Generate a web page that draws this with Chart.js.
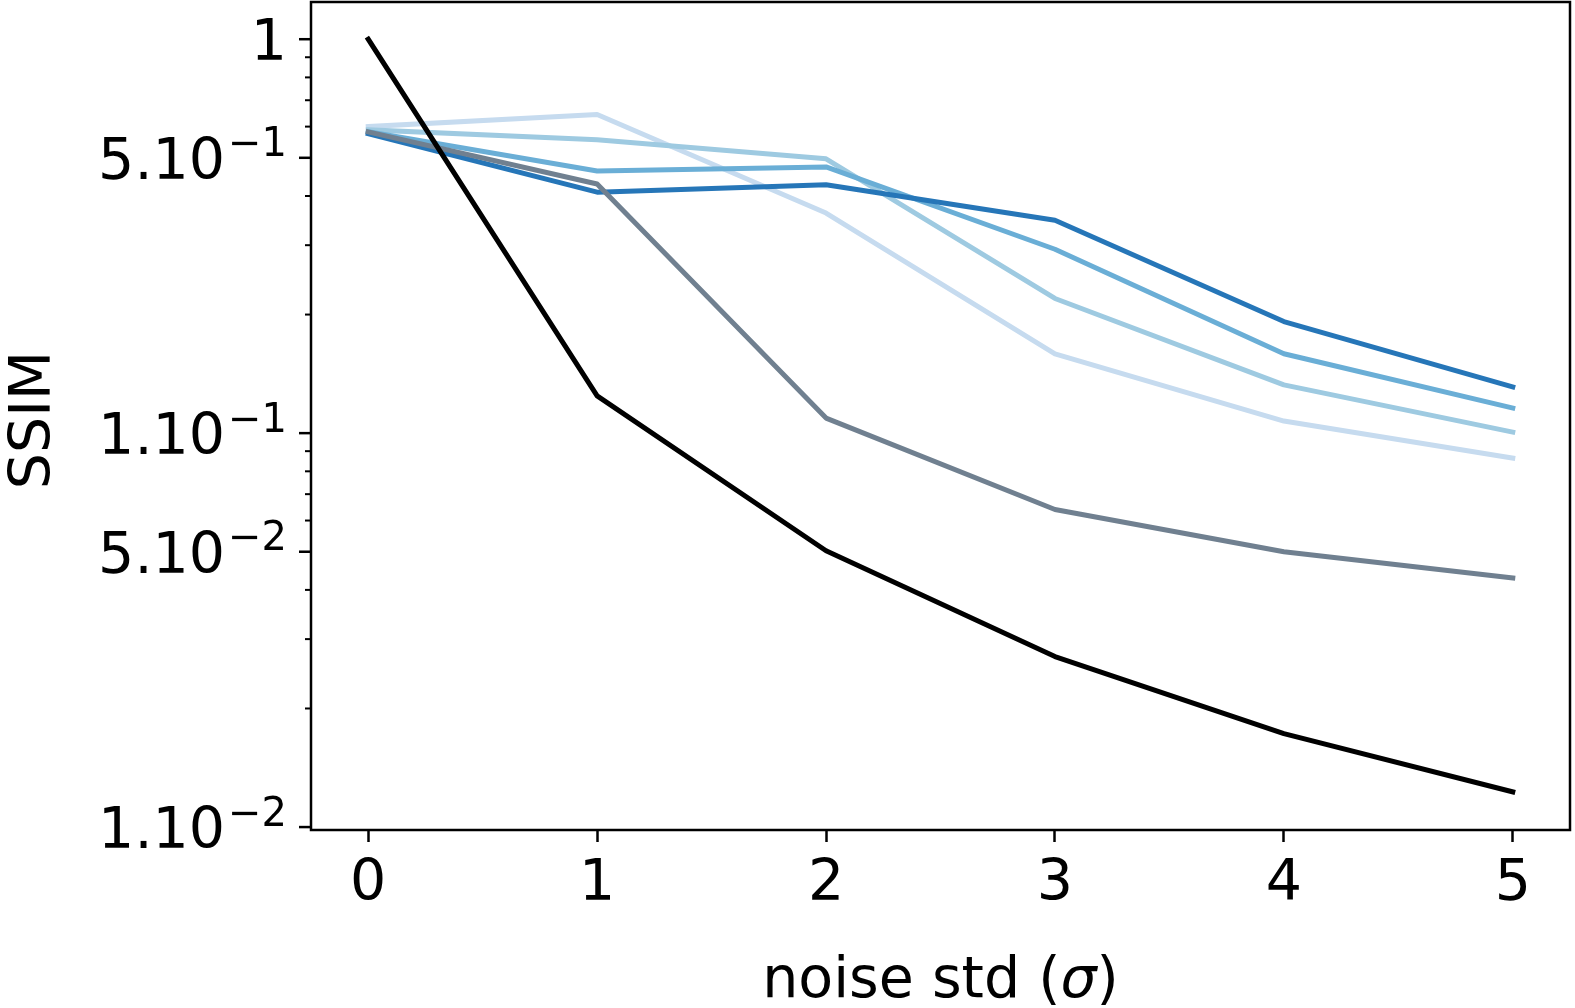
<!DOCTYPE html>
<html>
<head>
<meta charset="utf-8">
<script src="https://cdn.jsdelivr.net/npm/chart.js@4/dist/chart.umd.min.js"></script>
<style>
html, body { margin: 0; padding: 0; background: #ffffff; }
#wrap { width: 1575px; height: 1008px; position: relative; }
</style>
</head>
<body>
<div id="wrap"><canvas id="c" width="1575" height="1008"></canvas></div>
<script>
// ---------- data ----------
const noiseStd = [0, 1, 2, 3, 4, 5];
const xTickLabels = ['0', '1', '2', '3', '4', '5'];

const ssimBlack = [1.0, 0.1243, 0.0503, 0.0271, 0.01727, 0.01228];
const ssimGray  = [0.582, 0.429, 0.1092, 0.0640, 0.0500, 0.0429];
const ssimBlue1 = [0.600, 0.644, 0.362, 0.159, 0.1073, 0.0864];   // lightest
const ssimBlue2 = [0.589, 0.556, 0.497, 0.2197, 0.1326, 0.1006];
const ssimBlue3 = [0.582, 0.463, 0.474, 0.293, 0.159, 0.1158];
const ssimBlue4 = [0.576, 0.409, 0.427, 0.347, 0.192, 0.131];     // darkest

const yMajorTicks = [1, 0.5, 0.1, 0.05, 0.01];
const yMajorBase  = ['1', '5.10', '1.10', '5.10', '1.10'];
const yMajorExp   = ['', '\u22121', '\u22121', '\u22122', '\u22122'];
const yMinorTicks = [0.9, 0.8, 0.7, 0.6, 0.4, 0.3, 0.2, 0.09, 0.08, 0.07, 0.06, 0.04, 0.03, 0.02];

const xTitleParts = ['noise std (', '\u03C3', ')'];
const yTitle = 'SSIM';

// ---------- styles ----------
const FONT = 'DejaVu Sans';
const FS = 57;
const LW = 5;

function pts(arr) { return noiseStd.map((x, i) => ({ x: x, y: arr[i] })); }
function lineStyle(color) {
  return { borderColor: color, backgroundColor: color, borderWidth: LW, tension: 0,
           borderJoinStyle: 'round', borderCapStyle: 'square', fill: false,
           pointRadius: 0, pointHoverRadius: 0 };
}

const datasets = [
  Object.assign({ data: pts(ssimBlack) }, lineStyle('#000000')),
  Object.assign({ data: pts(ssimGray) },  lineStyle('#708090')),
  Object.assign({ data: pts(ssimBlue4) }, lineStyle('#2676b8')),
  Object.assign({ data: pts(ssimBlue3) }, lineStyle('#6aaed6')),
  Object.assign({ data: pts(ssimBlue2) }, lineStyle('#9ecae1')),
  Object.assign({ data: pts(ssimBlue1) }, lineStyle('#c6dbef'))
];

const decorPlugin = {
  id: 'decor',
  afterDraw(chart) {
    const ctx = chart.ctx;
    const ca = chart.chartArea;
    const ys = chart.scales.y;
    ctx.save();
    // frame
    ctx.strokeStyle = '#000';
    ctx.lineWidth = 2.5;
    ctx.strokeRect(ca.left, ca.top, ca.right - ca.left, ca.bottom - ca.top);
    // y tick marks
    ctx.lineWidth = 2.5;
    yMajorTicks.forEach(v => {
      const y = ys.getPixelForValue(v);
      ctx.beginPath(); ctx.moveTo(ca.left - 12, y); ctx.lineTo(ca.left, y); ctx.stroke();
    });
    ctx.lineWidth = 2;
    yMinorTicks.forEach(v => {
      const y = ys.getPixelForValue(v);
      ctx.beginPath(); ctx.moveTo(ca.left - 6, y); ctx.lineTo(ca.left, y); ctx.stroke();
    });
    // y tick labels with superscript exponent
    ctx.fillStyle = '#000';
    ctx.textBaseline = 'alphabetic';
    ctx.textAlign = 'right';
    const rightX = 287;
    yMajorTicks.forEach((v, i) => {
      const y = ys.getPixelForValue(v);
      let x = rightX;
      if (yMajorExp[i]) {
        ctx.font = '40px "' + FONT + '"';
        ctx.fillText(yMajorExp[i], x, y - 1.5);
        x -= ctx.measureText(yMajorExp[i]).width + 3;
      }
      ctx.font = FS + 'px "' + FONT + '"';
      ctx.fillText(yMajorBase[i], x, y + 21);
    });
    // y title
    ctx.save();
    ctx.translate(50, 420);
    ctx.rotate(-Math.PI / 2);
    ctx.textAlign = 'center';
    ctx.font = FS + 'px "' + FONT + '"';
    ctx.fillText(yTitle, 0, 0);
    ctx.restore();
    // x title with italic sigma
    const cx = (ca.left + ca.right) / 2;
    const fonts = [FS + 'px "' + FONT + '"', 'italic ' + FS + 'px "' + FONT + '"', FS + 'px "' + FONT + '"'];
    let total = 0;
    const widths = xTitleParts.map((t, i) => { ctx.font = fonts[i]; const w = ctx.measureText(t).width; total += w; return w; });
    let x0 = cx - total / 2;
    ctx.textAlign = 'left';
    xTitleParts.forEach((t, i) => {
      ctx.font = fonts[i];
      ctx.fillText(t, x0, 997);
      x0 += widths[i];
    });
    ctx.restore();
  }
};

new Chart(document.getElementById('c').getContext('2d'), {
  type: 'line',
  data: { datasets: datasets },
  options: {
    responsive: false,
    animation: false,
    devicePixelRatio: 1,
    layout: { autoPadding: false, padding: { left: 0, right: 5, top: 2, bottom: 0 } },
    plugins: { legend: { display: false }, tooltip: { enabled: false } },
    scales: {
      x: {
        type: 'linear',
        min: -0.25,
        max: 5.25,
        afterBuildTicks: s => { s.ticks = noiseStd.map(v => ({ value: v })); },
        afterFit: s => { s.height = 178; },
        ticks: {
          callback: v => { const i = noiseStd.indexOf(v); return i >= 0 ? xTickLabels[i] : ''; },
          font: { family: FONT, size: FS },
          color: '#000',
          padding: 9,
          maxRotation: 0,
          autoSkip: false
        },
        grid: { display: true, drawOnChartArea: false, drawTicks: true, tickLength: 12, tickWidth: 2.5, tickColor: '#000' },
        border: { display: false }
      },
      y: {
        type: 'logarithmic',
        min: 0.00983,
        max: 1.243,
        afterFit: s => { s.width = 311; },
        ticks: { display: false },
        grid: { display: false },
        border: { display: false }
      }
    }
  },
  plugins: [decorPlugin]
});
</script>
</body>
</html>
